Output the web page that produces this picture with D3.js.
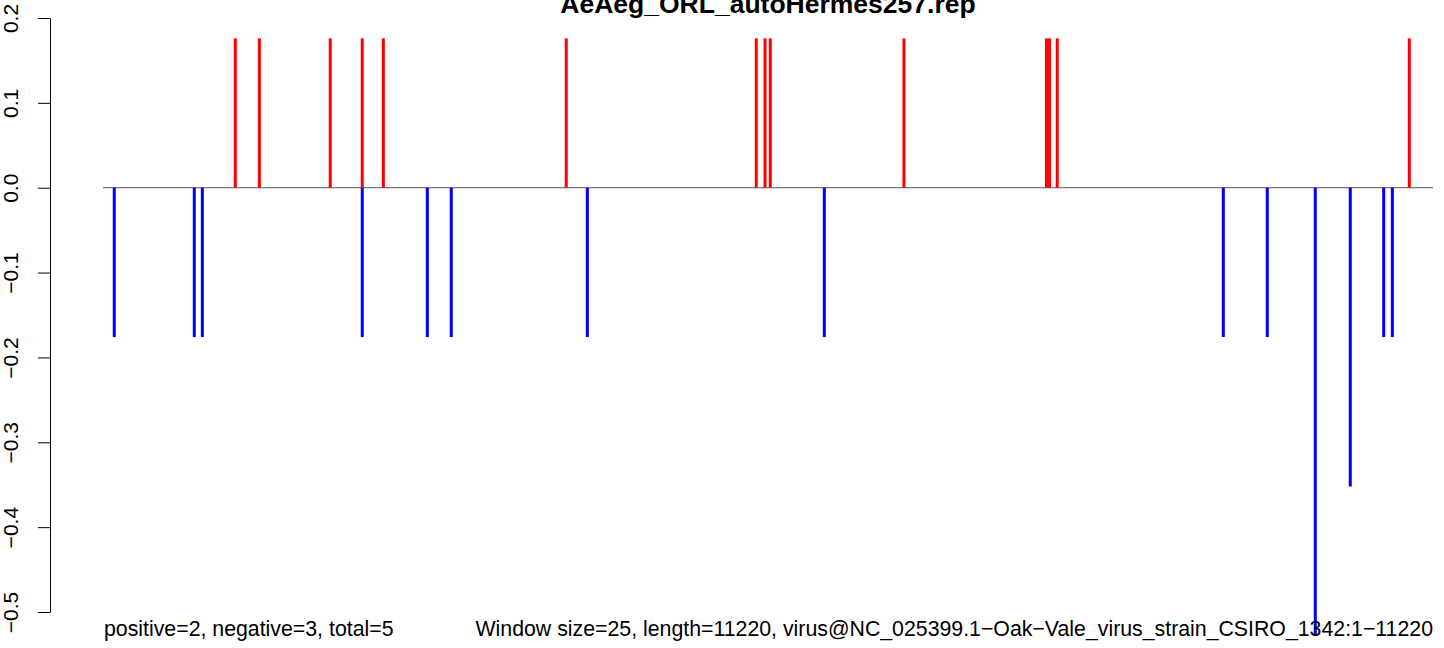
<!DOCTYPE html>
<html>
<head>
<meta charset="utf-8">
<script src="https://cdn.jsdelivr.net/npm/d3@7"></script>
<style>
  html, body { margin: 0; padding: 0; background: #fff; }
  svg { display: block; font-family: "Liberation Sans", Arial, Helvetica, sans-serif; }
</style>
</head>
<body>
<svg id="chart" width="1444" height="648"></svg>
<script>
// ---- data ----
const titleText = "AeAeg_ORL_autoHermes257.rep";
const seqLength = 11220;
const posPositions = [1116, 1319, 1917, 2187, 2365, 3908, 5511, 5585, 5629, 6757, 7959, 7985, 8050, 11020];
const posValues    = [0.176, 0.176, 0.176, 0.176, 0.176, 0.176, 0.176, 0.176, 0.176, 0.176, 0.176, 0.176, 0.176, 0.176];
const negPositions = [95, 770, 838, 2187, 2736, 2938, 4086, 6085, 9451, 9822, 10227, 10522, 10804, 10877];
const negValues    = [-0.176, -0.176, -0.176, -0.176, -0.176, -0.176, -0.176, -0.176, -0.176, -0.176, -0.528, -0.352, -0.176, -0.176];
const yTicks = [0.2, 0.1, 0.0, -0.1, -0.2, -0.3, -0.4, -0.5];
const yTickLabels = ["0.2", "0.1", "0.0", "\u22120.1", "\u22120.2", "\u22120.3", "\u22120.4", "\u22120.5"];
const leftNote = "positive=2, negative=3, total=5";
const rightNote = "Window size=25, length=11220, virus@NC_025399.1\u2212Oak\u2212Vale_virus_strain_CSIRO_1342:1\u221211220";

// ---- layout ----
const svg = d3.select("#chart");
const x = d3.scaleLinear().domain([0, seqLength]).range([103, 1433]);
const y = d3.scaleLinear().domain([-0.5, 0.2]).range([612, 18]);

// title
svg.append("text")
  .attr("x", 768).attr("y", 12.5)
  .attr("text-anchor", "middle")
  .attr("font-weight", "bold")
  .attr("font-size", 26.5)
  .attr("fill", "#000")
  .text(titleText);

// y axis
const yAxis = d3.axisLeft(y)
  .tickValues(yTicks)
  .tickSize(12)
  .tickSizeOuter(0)
  .tickFormat((d, i) => yTickLabels[i]);
const gy = svg.append("g").attr("transform", "translate(50,0)").call(yAxis);
gy.select(".domain").attr("stroke", "#000").attr("stroke-width", 1);
gy.selectAll(".tick line").attr("stroke", "#000").attr("stroke-width", 1);
gy.selectAll(".tick text")
  .attr("x", null).attr("dy", null)
  .attr("transform", "translate(-32.5,0) rotate(-90)")
  .attr("text-anchor", "middle")
  .attr("font-size", 21)
  .attr("font-family", "Liberation Sans, Arial, sans-serif")
  .attr("fill", "#000");

// zero baseline
svg.append("line")
  .attr("x1", x(0)).attr("x2", x(seqLength))
  .attr("y1", y(0)).attr("y2", y(0))
  .attr("stroke", "#555").attr("stroke-width", 1);

// bars
const posData = posPositions.map((p, i) => ({ p, v: posValues[i] }));
const negData = negPositions.map((p, i) => ({ p, v: negValues[i] }));

svg.append("g").selectAll("line").data(posData).join("line")
  .attr("x1", d => x(d.p)).attr("x2", d => x(d.p))
  .attr("y1", y(0)).attr("y2", d => y(d.v))
  .attr("stroke", "#ff0000").attr("stroke-width", 3);

svg.append("g").selectAll("line").data(negData).join("line")
  .attr("x1", d => x(d.p)).attr("x2", d => x(d.p))
  .attr("y1", y(0)).attr("y2", d => y(d.v))
  .attr("stroke", "#0000ff").attr("stroke-width", 3);

// bottom notes
svg.append("text")
  .attr("x", x(0) + 1).attr("y", 636)
  .attr("font-size", 21.3).attr("fill", "#000")
  .text(leftNote);
svg.append("text")
  .attr("x", x(seqLength)).attr("y", 636)
  .attr("text-anchor", "end")
  .attr("font-size", 21.3).attr("fill", "#000")
  .text(rightNote);
</script>
</body>
</html>
